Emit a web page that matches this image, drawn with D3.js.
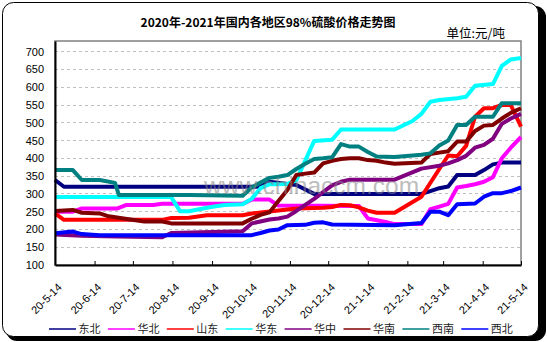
<!DOCTYPE html>
<html><head><meta charset="utf-8">
<script src="https://cdn.jsdelivr.net/npm/d3@7"></script>
<style>
body{margin:0;background:#fff}
svg{display:block}
text{font-family:"Liberation Sans",Arial,sans-serif}
.cjk{font-family:"Noto Sans CJK SC","Noto Sans",sans-serif}
</style>
</head><body>
<svg id="c" width="547" height="342"></svg>
<script>
const titleText = "2020年-2021年国内各地区98%硫酸价格走势图";
const unitText = "单位:元/吨";
const seriesNames = ["东北","华北","山东","华东","华中","华南","西南","西北"];
const seriesColors = ["#000080","#FF00FF","#FF0000","#00FFFF","#800080","#800000","#008080","#0000FF"];
const tickLabels = ["20-5-14","20-6-14","20-7-14","20-8-14","20-9-14","20-10-14","20-11-14","20-12-14","21-1-14","21-2-14","21-3-14","21-4-14","21-5-14"];
const yTicks = [100,150,200,250,300,350,400,450,500,550,600,650,700];

const dongbei = [["2020-05-14",339],["2020-05-21",320],["2020-10-22",320],["2020-10-29",334],["2020-11-12",328],["2020-11-19",325],["2020-12-03",300],["2021-02-25",300],["2021-03-04",308],["2021-03-11",316],["2021-03-18",321],["2021-03-25",353],["2021-04-08",353],["2021-04-15",367],["2021-04-22",383],["2021-04-29",388],["2021-05-14",388]];
const huabei = [["2020-05-14",250],["2020-05-28",250],["2020-06-04",259],["2020-07-02",259],["2020-07-09",269],["2020-07-30",269],["2020-08-06",272],["2020-10-08",272],["2020-10-15",284],["2020-10-29",284],["2020-11-05",267],["2021-01-07",266],["2021-01-14",231],["2021-01-28",221],["2021-02-04",215],["2021-02-25",215],["2021-03-04",257],["2021-03-11",264],["2021-03-18",272],["2021-03-25",318],["2021-04-01",322],["2021-04-08",327],["2021-04-15",334],["2021-04-22",347],["2021-04-29",400],["2021-05-06",430],["2021-05-14",460]];
const shandong = [["2020-05-14",245],["2020-05-21",227],["2020-08-06",227],["2020-08-13",232],["2020-08-27",233],["2020-09-10",240],["2020-10-08",240],["2020-10-15",245],["2020-11-05",253],["2020-11-19",259],["2020-12-10",261],["2020-12-17",263],["2020-12-24",269],["2020-12-31",268],["2021-01-07",262],["2021-01-14",253],["2021-01-21",247],["2021-02-04",247],["2021-02-25",292],["2021-03-11",370],["2021-03-18",408],["2021-03-25",406],["2021-04-01",435],["2021-04-08",517],["2021-04-15",541],["2021-04-22",541],["2021-04-29",550],["2021-05-06",550],["2021-05-14",489]];
const huadong = [["2020-05-14",291],["2020-08-13",291],["2020-08-20",251],["2020-08-27",251],["2020-09-03",256],["2020-09-10",261],["2020-09-17",265],["2020-09-24",269],["2020-10-08",271],["2020-10-15",286],["2020-10-22",316],["2020-10-29",327],["2020-11-12",328],["2020-11-19",338],["2020-12-03",449],["2020-12-17",452],["2020-12-24",481],["2021-02-04",481],["2021-02-18",505],["2021-02-25",525],["2021-03-04",559],["2021-03-11",564],["2021-03-25",569],["2021-04-01",573],["2021-04-08",604],["2021-04-22",609],["2021-04-29",660],["2021-05-06",678],["2021-05-14",682]];
const huazhong = [["2020-05-14",186],["2020-06-04",182],["2020-07-02",180],["2020-08-06",178],["2020-08-13",190],["2020-10-08",195],["2020-10-15",217],["2020-10-29",228],["2020-11-05",231],["2020-11-12",236],["2020-11-19",252],["2020-11-26",269],["2020-12-03",286],["2020-12-10",305],["2020-12-17",324],["2020-12-24",334],["2020-12-31",340],["2021-02-04",340],["2021-02-25",371],["2021-03-11",379],["2021-03-18",386],["2021-03-25",395],["2021-04-01",407],["2021-04-08",430],["2021-04-15",438],["2021-04-22",455],["2021-04-29",497],["2021-05-06",512],["2021-05-14",525]];
const huanan = [["2020-05-14",252],["2020-05-28",255],["2020-06-04",247],["2020-06-18",245],["2020-06-25",237],["2020-07-16",226],["2020-07-23",222],["2020-08-06",222],["2020-08-13",217],["2020-10-08",217],["2020-10-15",230],["2020-10-22",241],["2020-10-29",248],["2020-11-05",280],["2020-11-12",311],["2020-11-19",353],["2020-11-26",357],["2020-12-03",360],["2020-12-10",386],["2020-12-17",393],["2020-12-24",398],["2020-12-31",400],["2021-01-07",400],["2021-01-14",395],["2021-01-21",393],["2021-01-28",388],["2021-02-04",385],["2021-02-25",388],["2021-03-04",412],["2021-03-11",416],["2021-03-18",420],["2021-03-25",447],["2021-04-01",447],["2021-04-08",477],["2021-04-15",492],["2021-04-22",494],["2021-04-29",512],["2021-05-06",528],["2021-05-14",541]];
const xinan = [["2020-05-14",367],["2020-05-28",367],["2020-06-04",339],["2020-06-18",339],["2020-06-30",331],["2020-07-03",297],["2020-08-27",297],["2020-10-08",295],["2020-10-15",318],["2020-10-22",332],["2020-10-29",345],["2020-11-05",348],["2020-11-12",353],["2020-11-19",370],["2020-11-26",385],["2020-12-03",398],["2020-12-10",400],["2020-12-17",403],["2020-12-24",440],["2020-12-31",433],["2021-01-07",433],["2021-01-14",418],["2021-01-21",405],["2021-02-04",404],["2021-02-25",410],["2021-03-04",414],["2021-03-11",436],["2021-03-18",450],["2021-03-25",494],["2021-04-01",494],["2021-04-08",517],["2021-04-22",517],["2021-04-29",555],["2021-05-14",555]];
const xibei = [["2020-05-14",189],["2020-05-28",194],["2020-06-04",187],["2020-06-18",184],["2020-10-15",184],["2020-10-22",190],["2020-10-29",197],["2020-11-05",200],["2020-11-12",212],["2020-11-26",213],["2020-12-03",219],["2020-12-10",220],["2020-12-17",214],["2021-02-04",212],["2021-02-25",218],["2021-03-04",250],["2021-03-11",250],["2021-03-18",240],["2021-03-25",271],["2021-04-08",273],["2021-04-15",292],["2021-04-22",302],["2021-04-29",302],["2021-05-06",308],["2021-05-14",318]];

const allSeries = [dongbei, huabei, shandong, huadong, huazhong, huanan, xinan, xibei];

const svg = d3.select("#c");
const parse = d3.utcParse("%Y-%m-%d");
const parseTick = d3.utcParse("%y-%m-%d");
const tickDates = tickLabels.map(parseTick);

const x = d3.scaleUtc().domain([tickDates[0], tickDates[tickDates.length-1]]).range([55, 521]);
const y = d3.scaleLinear().domain([100, 730]).range([265, 41]);

// frame with shadow
svg.append("rect").attr("x",6).attr("y",6).attr("width",540).attr("height",335).attr("rx",11).attr("fill","#000");
svg.append("rect").attr("x",2.5).attr("y",2.5).attr("width",536).attr("height",334).attr("rx",11)
  .attr("fill","#fff").attr("stroke","#000").attr("stroke-width",1);

// title
svg.append("text").attr("class","cjk").attr("x",268).attr("y",27).attr("text-anchor","middle")
  .attr("font-size",12).attr("font-weight","bold").attr("fill","#000").text(titleText);
svg.append("text").attr("class","cjk").attr("x",505).attr("y",38).attr("text-anchor","end")
  .attr("font-size",12.5).attr("fill","#000").text(unitText);

// grid
svg.append("g").selectAll("line").data(yTicks.filter(v => v > 100)).join("line")
  .attr("x1",55).attr("x2",521).attr("y1",d=>y(d)).attr("y2",d=>y(d))
  .attr("stroke","#c0c0c0").attr("stroke-dasharray","3,3").attr("shape-rendering","crispEdges");

// plot border (top/right gray)
svg.append("rect").attr("x",55).attr("y",41).attr("width",466).attr("height",224)
  .attr("fill","none").attr("stroke","#808080").attr("stroke-width",1.5);

// lines
const line = d3.line().x(d => x(parse(d[0]))).y(d => y(d[1]));
svg.append("g").selectAll("path").data(allSeries).join("path")
  .attr("d", line).attr("fill","none")
  .attr("stroke",(d,i)=>seriesColors[i]).attr("stroke-width",4)
  .attr("stroke-linejoin","round").attr("stroke-linecap","butt");

// watermark
svg.append("text").attr("x",204).attr("y",194).attr("font-size",24.5)
  .attr("fill","#888").attr("opacity",0.55).text("www.chinaccm.com");

// x axis
const xAxis = svg.append("g").attr("transform","translate(0,265)")
  .call(d3.axisBottom(x).tickValues(tickDates).tickSizeInner(-4).tickSizeOuter(0)
    .tickFormat((d,i)=>tickLabels[i]));
xAxis.select(".domain").attr("stroke","#000").attr("stroke-width",2);
xAxis.selectAll(".tick line").attr("stroke","#000");
xAxis.selectAll(".tick text").attr("x",0).attr("y",0).attr("dy",null)
  .attr("text-anchor","end").attr("transform","translate(7,23) rotate(-45)")
  .attr("font-size",11).attr("fill","#000");

// y axis
const yAxis = svg.append("g").attr("transform","translate(55,0)")
  .call(d3.axisLeft(y).tickValues(yTicks).tickSize(0).tickPadding(11));
yAxis.select(".domain").attr("stroke","#000").attr("stroke-width",2);
yAxis.selectAll(".tick text").attr("font-size",11).attr("fill","#000");

// legend
const leg = svg.append("g").selectAll("g").data(seriesNames).join("g")
  .attr("transform",(d,i)=>`translate(${49 + i*58.9},329)`);
leg.append("line").attr("x1",0).attr("x2",27).attr("y1",0).attr("y2",0)
  .attr("stroke",(d,i)=>seriesColors[i]).attr("stroke-width",1.5);
leg.append("text").attr("class","cjk").attr("x",29.5).attr("y",4).attr("font-size",11)
  .attr("fill","#222").text(d=>d);
</script>
</body></html>
